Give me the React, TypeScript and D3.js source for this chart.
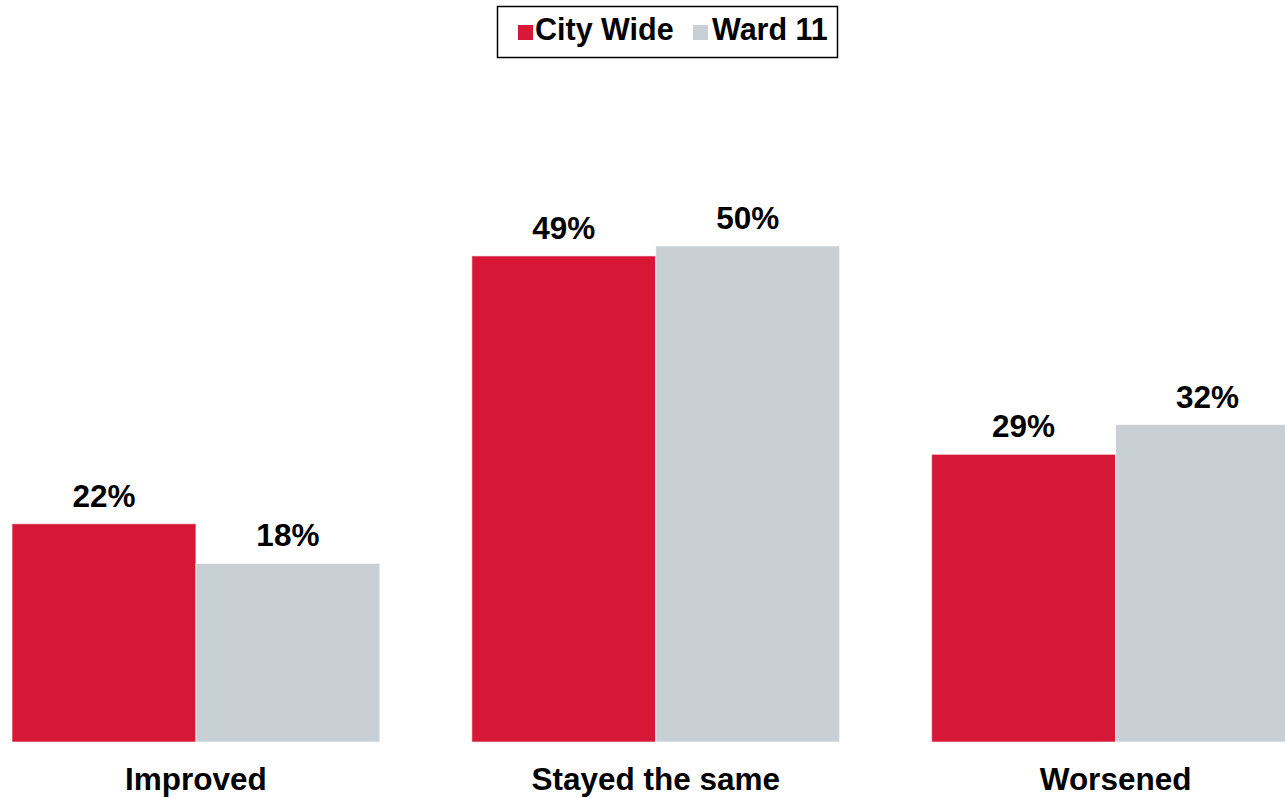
import React from "react";
import * as d3 from "d3";

const categories = ["Improved", "Stayed the same", "Worsened"];
const seriesNames = ["City Wide", "Ward 11"];
const cityWide = [0.22, 0.49, 0.29];
const ward11 = [0.18, 0.5, 0.32];
const colors = ["#D61836", "#C8D0D6"];

const W = 1285;
const H = 798;

export default function App() {
  const x = d3.scaleBand<string>().domain(categories).range([12, 1299.5]).paddingInner(0.2).paddingOuter(0);
  const xs = d3.scaleBand<string>().domain(seriesNames).range([0, x.bandwidth()]).padding(0);
  const y = d3.scaleLinear().domain([0, 0.5]).range([742, 246]);
  const fmt = d3.format(".0%");
  const values = [cityWide, ward11];
  const font = "'Liberation Sans', Arial, sans-serif";

  return (
    <svg width={W} height={H} style={{ position: "absolute", left: 0, top: 0, background: "#fff" }} fontFamily={font}>
      {seriesNames.map((s, si) =>
        categories.map((c, ci) => {
          const v = values[si][ci];
          const bx = (x(c) as number) + (xs(s) as number);
          const bw = xs.bandwidth();
          return (
            <g key={s + c}>
              <rect x={bx} y={y(v)} width={bw} height={y(0) - y(v)} fill={colors[si]} stroke="#ffffff" strokeOpacity={0.6} strokeWidth={1} />
              <text x={bx + bw / 2} y={y(v) - 17} textAnchor="middle" fontSize={31.5} fontWeight="bold" fill="#000">
                {fmt(v)}
              </text>
            </g>
          );
        })
      )}
      {categories.map((c) => (
        <text key={c} x={(x(c) as number) + x.bandwidth() / 2} y={790} textAnchor="middle" fontSize={31.5} fontWeight="bold" fill="#000">
          {c}
        </text>
      ))}
      <g>
        <rect x={497.5} y={6.5} width={340} height={51} fill="#fff" stroke="#000" strokeWidth={1.5} />
        <rect x={518} y={25} width={15} height={15} fill={colors[0]} />
        <text x={535} y={40} fontSize={30.5} fontWeight="bold" fill="#000">{seriesNames[0]}</text>
        <rect x={693} y={25} width={15} height={15} fill={colors[1]} />
        <text x={712} y={40} fontSize={30.5} fontWeight="bold" fill="#000">{seriesNames[1]}</text>
      </g>
    </svg>
  );
}
